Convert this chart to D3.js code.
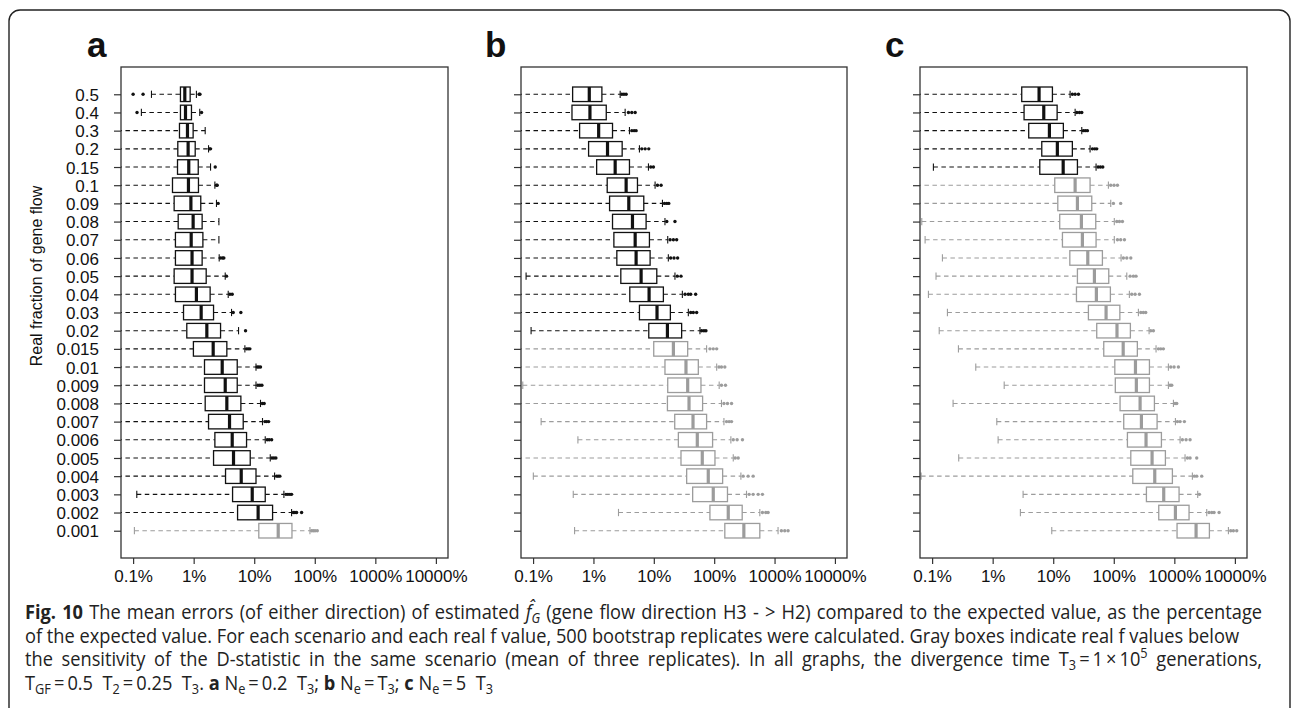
<!DOCTYPE html>
<html>
<head>
<meta charset="utf-8">
<script src="https://cdn.jsdelivr.net/npm/d3@7"></script>
<style>
  html, body { margin: 0; padding: 0; background: #fff; }
  svg { display: block; }
</style>
</head>
<body>
<svg id="fig" width="1293" height="708"></svg>
<script>
// Real fraction of gene flow (rows, top to bottom)
const categories = ["0.5", "0.4", "0.3", "0.2", "0.15", "0.1", "0.09", "0.08", "0.07", "0.06",
  "0.05", "0.04", "0.03", "0.02", "0.015", "0.01", "0.009", "0.008", "0.007", "0.006",
  "0.005", "0.004", "0.003", "0.002", "0.001"];

const xTickValues = [0.1, 1, 10, 100, 1000, 10000];
const xTickLabels = ["0.1%", "1%", "10%", "100%", "1000%", "10000%"];

// Box statistics, in percent of the expected value: [lower whisker, Q1, median, Q3, upper whisker]
// (0.03 marks a lower whisker reaching below the plotted range)
const statsA = [
  [0.201, 0.605, 0.714, 0.875, 1.11], [0.137, 0.605, 0.733, 0.92, 1.26], [0.03, 0.583, 0.79, 0.98, 1.55],
  [0.03, 0.547, 0.81, 1.06, 1.76], [0.03, 0.541, 0.83, 1.19, 1.90], [0.03, 0.447, 0.82, 1.20, 2.24],
  [0.03, 0.476, 0.90, 1.31, 2.38], [0.03, 0.555, 0.98, 1.38, 2.61], [0.03, 0.50, 0.91, 1.42, 2.61],
  [0.03, 0.50, 0.94, 1.38, 2.64], [0.03, 0.476, 0.94, 1.61, 3.32], [0.03, 0.50, 1.11, 1.87, 3.72],
  [0.03, 0.68, 1.33, 2.13, 4.22], [0.03, 0.77, 1.65, 2.78, 5.51], [0.03, 0.99, 2.10, 3.53, 7.01],
  [0.03, 1.51, 2.96, 5.24, 10.7], [0.03, 1.51, 3.32, 5.24, 10.7], [0.03, 1.55, 3.53, 6.02, 12.7],
  [0.03, 1.76, 3.91, 6.58, 13.7], [0.03, 2.24, 4.33, 7.47, 15.2], [0.03, 2.13, 4.55, 8.59, 18.4],
  [0.03, 3.36, 6.10, 10.7, 21.7], [0.115, 4.39, 9.27, 15.2, 30.9], [0.03, 5.31, 11.6, 20.1, 41.4],
  [0.105, 11.9, 24.9, 42.0, 83.2]
];
const outliersA = [
  [0.1, 0.146, 1.23, 1.27], [0.116, 1.35], [], [1.83, 1.9], [2.27], [2.38, 2.45], [2.54], [], [],
  [2.78, 3.0, 3.15], [3.49], [3.96, 4.33], [4.50, 6.02], [7.19], [7.47, 7.96, 8.48],
  [11.2, 11.9, 12.7], [11.5, 12.4, 13.4], [13.6, 14.6], [15.0, 16.0, 17.3], [16.4, 17.7, 19.4],
  [19.6, 21.1, 22.8], [23.4, 24.9, 26.5], [33.4, 36.0, 38.9, 41.4], [44.2, 47.0, 50.1, 60.6],
  [88.7, 94.5, 101, 110]
];

const statsB = [
  [0.03, 0.452, 0.853, 1.38, 2.77], [0.03, 0.441, 0.875, 1.63, 3.35], [0.03, 0.590, 1.22, 2.07, 3.95],
  [0.03, 0.831, 1.71, 2.99, 5.78], [0.03, 1.13, 2.29, 3.95, 8.15], [0.03, 1.69, 3.48, 5.36, 10.5],
  [0.03, 1.85, 3.85, 6.82, 13.9], [0.03, 2.07, 4.43, 7.45, 15.3], [0.03, 2.18, 4.91, 8.46, 17.0],
  [0.03, 2.44, 5.09, 8.68, 17.4], [0.0766, 2.84, 6.16, 11.2, 22.4], [0.03, 4.00, 8.35, 14.4, 29.7],
  [0.03, 5.78, 11.3, 18.8, 37.3], [0.0927, 8.25, 16.8, 28.9, 58.1], [0.03, 9.97, 21.1, 36.4, 74.9],
  [0.03, 15.3, 34.1, 54.6, 110], [0.0675, 17.0, 36.4, 60.4, 121], [0.03, 16.8, 38.3, 64.3, 132],
  [0.136, 22.2, 44.6, 74.9, 145], [0.553, 25.5, 52.5, 94.1, 189], [0.03, 28.2, 63.5, 103, 207],
  [0.101, 35.0, 79.8, 138, 277], [0.463, 44.0, 96.5, 166, 343], [2.60, 85.0, 171, 291, 570],
  [0.487, 150, 310, 570, 1143]
];
const outliersB = [
  [2.95, 3.2, 3.48], [3.80, 4.32, 4.91], [4.32, 4.72, 5.09], [6.32, 7.18, 8.25], [8.89, 9.85],
  [11.5, 13.2], [15.0, 16.4, 17.7], [16.4, 22.4], [18.6, 21.1, 23.9], [19.0, 21.6, 24.8],
  [24.5, 28.2], [32.9, 37.3, 40.8, 49.3], [40.8, 45.1, 51.2], [61.9, 67.6, 73.0], [85.0, 96.5, 110],
  [120, 132, 150], [132, 154], [145, 166, 194], [160, 177, 194], [207, 240, 294], [223, 250],
  [302, 365, 442], [379, 442, 535, 630], [630, 716, 782], [1298, 1475, 1675]
];

const statsC = [
  [0.03, 3.02, 5.84, 9.70, 19.0], [0.03, 3.30, 6.98, 11.6, 23.0], [0.03, 3.94, 8.65, 14.7, 29.6],
  [0.03, 6.47, 11.7, 20.7, 40.6], [0.105, 6.00, 14.6, 25.1, 51.0], [0.03, 10.6, 23.0, 40.6, 81.5],
  [0.03, 11.9, 25.1, 43.3, 89.1], [0.0675, 12.8, 29.2, 50.4, 102], [0.0766, 14.2, 30.3, 51.0, 102],
  [0.148, 18.8, 37.2, 64.9, 132], [0.116, 25.1, 47.9, 82.6, 164], [0.0869, 24.2, 51.6, 87.9, 181],
  [0.179, 38.1, 74.6, 126, 255], [0.131, 52.3, 113, 188, 383], [0.272, 68.3, 143, 245, 499],
  [0.526, 104, 228, 388, 798], [1.55, 106, 236, 388, 798], [0.222, 127, 272, 469, 966],
  [1.17, 146, 286, 519, 1042], [1.23, 168, 341, 612, 1245], [0.275, 191, 429, 712, 1503],
  [0.0658, 206, 475, 929, 1986], [3.18, 346, 668, 1197, 2433], [2.87, 553, 1042, 1750, 3428],
  [9.46, 1109, 2286, 3793, 7816]
];
const outliersC = [
  [20.7, 23.0, 26.1], [24.5, 27.1, 29.6], [31.5, 34.0, 36.7], [44.4, 48.5, 52.3], [55.1, 60.1, 65.8],
  [89.1, 101, 115], [98.6, 130], [112, 124, 139], [115, 130, 150], [144, 164, 191],
  [186, 211, 233], [198, 225, 265], [279, 308, 337], [408, 451], [546, 597, 659],
  [873, 990, 1167], [851, 906], [1028, 1096], [1124, 1245, 1466], [1358, 1563, 1820],
  [1643, 1820, 2344], [2143, 2344, 2834], [2594], [3742, 4150, 4529, 5483], [8531, 9441, 10720]
];

// First real f value that falls below the D-statistic sensitivity (drawn in gray)
const firstGrayA = "0.001";
const firstGrayB = "0.015";
const firstGrayC = "0.1";

const panelLabels = ["a", "b", "c"];
const yTitle = "Real fraction of gene flow";

// ---------------------------------------------------------------- layout
const svg = d3.select("#fig");
const INK = "#111";
const GRAY = "#9c9c9c";
const AXIS = "#333";
const plotTop = 67, plotBottom = 558;

// rounded outer frame (its lower edge runs past the page)
svg.append("rect")
  .attr("x", 9).attr("y", 10).attr("width", 1281).attr("height", 710)
  .attr("rx", 11).attr("ry", 11)
  .attr("fill", "none").attr("stroke", "#222").attr("stroke-width", 1.4);

const panels = [
  { stats: statsA, outliers: outliersA, firstGray: firstGrayA, left: 121, right: 448, labelX: 87, showLabels: true },
  { stats: statsB, outliers: outliersB, firstGray: firstGrayB, left: 521, right: 847, labelX: 485, showLabels: false },
  { stats: statsC, outliers: outliersC, firstGray: firstGrayC, left: 920, right: 1247, labelX: 885, showLabels: false }
];

const n = categories.length;
const y = d3.scaleLinear().domain([-0.5, n + 1.5]).range([plotBottom, plotTop]);
const pos = i => n - i;                 // top row sits at the highest position
const unit = Math.abs(y(1) - y(0));
const halfBox = 0.4 * unit;
const halfCap = 0.2 * unit;

panels.forEach((p, k) => {
  const g = svg.append("g");
  const x = d3.scaleLog().domain([Math.pow(10, -1.2), Math.pow(10, 4.2)]).range([p.left, p.right]);
  const grayIndex = categories.indexOf(p.firstGray);

  // panel letter
  g.append("text")
    .attr("x", p.labelX).attr("y", 57)
    .attr("font-family", "'Liberation Sans', Arial, sans-serif")
    .attr("font-weight", 700).attr("font-size", 35).attr("fill", "#111")
    .text(panelLabels[k]);

  const clipId = "clip" + k;
  svg.append("clipPath").attr("id", clipId)
    .append("rect").attr("x", p.left).attr("y", plotTop)
    .attr("width", p.right - p.left).attr("height", plotBottom - plotTop);

  const marks = g.append("g").attr("clip-path", `url(#${clipId})`);

  p.stats.forEach((s, i) => {
    const [lo, q1, med, q3, hi] = s;
    const cy = y(pos(i));
    const col = i >= grayIndex ? GRAY : INK;
    const row = marks.append("g");

    // whiskers
    row.append("line")
      .attr("x1", x(lo)).attr("x2", x(q1)).attr("y1", cy).attr("y2", cy)
      .attr("stroke", col).attr("stroke-width", 1.1).attr("stroke-dasharray", "4.5,3.5");
    row.append("line")
      .attr("x1", x(q3)).attr("x2", x(hi)).attr("y1", cy).attr("y2", cy)
      .attr("stroke", col).attr("stroke-width", 1.1).attr("stroke-dasharray", "4.5,3.5");
    [lo, hi].forEach(v => {
      row.append("line")
        .attr("x1", x(v)).attr("x2", x(v)).attr("y1", cy - halfCap).attr("y2", cy + halfCap)
        .attr("stroke", col).attr("stroke-width", 1.1);
    });

    // box and median
    row.append("rect")
      .attr("x", x(q1)).attr("y", cy - halfBox)
      .attr("width", x(q3) - x(q1)).attr("height", 2 * halfBox)
      .attr("fill", "#fff").attr("stroke", col).attr("stroke-width", 1.3);
    row.append("line")
      .attr("x1", x(med)).attr("x2", x(med)).attr("y1", cy - halfBox).attr("y2", cy + halfBox)
      .attr("stroke", col).attr("stroke-width", 3.2);

    // outlying replicates
    row.selectAll("circle").data(p.outliers[i]).join("circle")
      .attr("cx", d => x(d)).attr("cy", cy).attr("r", 1.7)
      .attr("fill", col).attr("stroke", "none");
  });

  // plot frame
  g.append("rect")
    .attr("x", p.left).attr("y", plotTop)
    .attr("width", p.right - p.left).attr("height", plotBottom - plotTop)
    .attr("fill", "none").attr("stroke", AXIS).attr("stroke-width", 1.3);

  // x axis
  const xAxis = g.append("g")
    .attr("transform", `translate(0,${plotBottom})`)
    .call(d3.axisBottom(x).tickValues(xTickValues).tickFormat((d, i) => xTickLabels[i]).tickSize(6).tickPadding(6));
  xAxis.select(".domain").remove();
  xAxis.selectAll(".tick line").attr("stroke", AXIS).attr("stroke-width", 1.2);
  xAxis.selectAll(".tick text")
    .attr("font-family", "'Liberation Sans', Arial, sans-serif")
    .attr("font-size", 17).attr("fill", "#111");

  // y axis
  const yAxis = g.append("g")
    .attr("transform", `translate(${p.left},0)`)
    .call(d3.axisLeft(y).tickValues(categories.map((c, i) => pos(i)))
      .tickFormat(d => p.showLabels ? categories[n - d] : "").tickSize(7).tickPadding(15));
  yAxis.select(".domain").remove();
  yAxis.selectAll(".tick line").attr("stroke", AXIS).attr("stroke-width", 1.2);
  yAxis.selectAll(".tick text")
    .attr("font-family", "'Liberation Sans', Arial, sans-serif")
    .attr("font-size", 17).attr("fill", "#111").attr("dy", "0.36em");
});

// y axis title
svg.append("text")
  .attr("transform", "translate(42,276) rotate(-90)")
  .attr("text-anchor", "middle")
  .attr("font-family", "'Liberation Sans', Arial, sans-serif")
  .attr("font-size", 16).attr("fill", "#111")
  .text(yTitle);

// ---------------------------------------------------------------- caption
const TS = "\u2009";   // thin space around relations
const captionLines = [
  { baseline: 619, end: 1263, justify: true, parts: [
    { t: "Fig. 10", b: 1 },
    { t: " The mean errors (of either direction) of estimated " },
    { t: "f\u0302", i: 1 }, { t: "G", i: 1, sub: 1 },
    { t: " (gene flow direction H3 - > H2) compared to the expected value, as the percentage" } ] },
  { baseline: 642.5, end: 1240, justify: true, parts: [
    { t: "of the expected value. For each scenario and each real f value, 500 bootstrap replicates were calculated. Gray boxes indicate real f values below" } ] },
  { baseline: 666, end: 1263, justify: true, parts: [
    { t: "the sensitivity of the D-statistic in the same scenario (mean of three replicates). In all graphs, the divergence time T" },
    { t: "3", sub: 1 }, { t: TS + "=" + TS + "1" + TS + "\u00d7" + TS + "10" }, { t: "5", sup: 1 },
    { t: " generations," } ] },
  { baseline: 689.5, end: null, justify: false, parts: [
    { t: "T" }, { t: "GF", sub: 1 }, { t: TS + "=" + TS + "0.5  T" }, { t: "2", sub: 1 },
    { t: TS + "=" + TS + "0.25  T" }, { t: "3", sub: 1 }, { t: ". " },
    { t: "a", b: 1 }, { t: " N" }, { t: "e", sub: 1 }, { t: TS + "=" + TS + "0.2  T" }, { t: "3", sub: 1 }, { t: "; " },
    { t: "b", b: 1 }, { t: " N" }, { t: "e", sub: 1 }, { t: TS + "=" + TS + "T" }, { t: "3", sub: 1 }, { t: "; " },
    { t: "c", b: 1 }, { t: " N" }, { t: "e", sub: 1 }, { t: TS + "=" + TS + "5  T" }, { t: "3", sub: 1 } ] }
];

const capX = 25;
const capFont = "'Open Sans', 'Noto Sans', sans-serif";
const capSize = 20;

const built = captionLines.map(line => {
  const g = svg.append("g");
  const t = g.append("text").attr("x", 0).attr("y", 0)
    .attr("font-family", capFont).attr("font-size", capSize).attr("fill", "#222")
    .style("white-space", "pre");
  let shift = 0;
  line.parts.forEach(p => {
    const ts = t.append("tspan").text(p.t);
    const want = p.sub ? 4 : p.sup ? -8 : 0;
    if (want !== shift) { ts.attr("dy", want - shift); shift = want; }
    if (p.sub || p.sup) ts.attr("font-size", 14);
    if (p.b) ts.attr("font-weight", 700);
    if (p.i) ts.attr("font-style", "italic");
  });
  const spaces = line.parts.reduce((s, p) => s + (p.t.match(/ /g) || []).length, 0);
  return { line, g, t, spaces, natural: t.node().getComputedTextLength() };
});

// horizontal condensing, set by the second line which is set at its natural spacing
const ref = built[1];
const sx = (ref.line.end - capX) / ref.natural;

built.forEach(b => {
  let lineScale = sx;
  if (b.line.justify && b.line.end && b.spaces > 0) {
    const target = (b.line.end - capX) / sx;
    const extra = target - b.natural;
    if (extra >= 0) b.t.attr("word-spacing", extra / b.spaces);
    else lineScale = (b.line.end - capX) / b.natural;
  }
  b.g.attr("transform", `translate(${capX},${b.line.baseline}) scale(${lineScale},1)`);
});
</script>
</body>
</html>
